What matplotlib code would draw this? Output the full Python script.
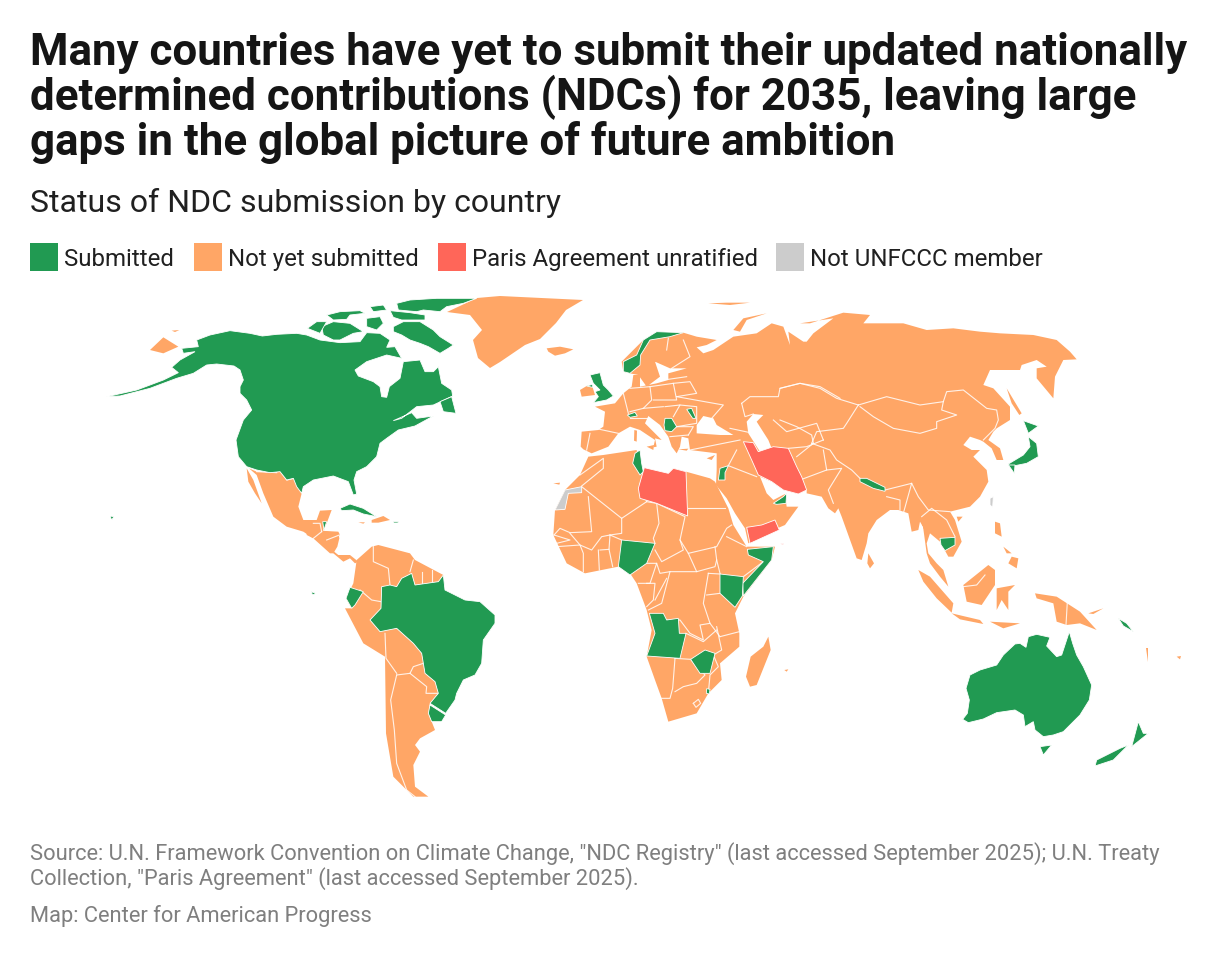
import matplotlib
matplotlib.use("Agg")
import matplotlib.pyplot as plt
from matplotlib.patches import Polygon, Rectangle

plt.rcParams['font.family'] = ['Roboto', 'DejaVu Sans']

TITLE = ["Many countries have yet to submit their updated nationally",
         "determined contributions (NDCs) for 2035, leaving large",
         "gaps in the global picture of future ambition"]
SUBTITLE = "Status of NDC submission by country"
LEGEND = ["Submitted", "Not yet submitted", "Paris Agreement unratified", "Not UNFCCC member"]
SOURCE = ['Source: U.N. Framework Convention on Climate Change, "NDC Registry" (last accessed September 2025); U.N. Treaty',
          'Collection, "Paris Agreement" (last accessed September 2025).']
CREDIT = "Map: Center for American Progress"

GREEN, ORANGE, RED, GREY = "#219a52", "#ffa666", "#ff6659", "#cccccc"

# shapes, each in one of a few local frames
FR = {1: (100, 290), 2: (300, 530), 3: (540, 290), 4: (540, 450), 5: (780, 300), 6: (880, 520)}
def z(f, pts):
    ox, oy = FR[f]
    return [(ox + x / 3, oy + y / 3) for x, y in pts]

greens = [
 z(1,[(290,150),(330,135),(390,122),(450,130),(487,138),(530,133),(590,130),(620,135),(660,150),(720,158),(780,155),(800,128),(840,130),(870,150),(860,172),(885,170),(905,205),(860,195),(800,215),(765,240),(775,258),(820,275),(840,290),(845,320),(860,322),(868,290),(900,265),(910,215),(960,210),(975,245),(1000,245),(1015,230),(1025,280),(1055,300),(1058,318),(1000,345),(950,350),(905,385),(880,392),(935,368),(950,385),(1000,378),(945,408),(895,420),(860,445),(840,460),(830,500),(800,530),(770,545),(762,570),(770,612),(760,615),(745,575),(700,558),(640,570),(610,590),(605,610),(590,590),(580,565),(560,570),(540,545),(510,548),(470,540),(440,530),(415,500),(408,450),(430,390),(455,360),(440,330),(420,310),(420,290),(430,270),(420,240),(402,228),(350,222),(320,225),(280,250),(230,265),(150,295),(60,318),(20,320),(110,300),(190,270),(235,248),(215,232),(240,210),(285,185),(250,190),(245,175),(295,170)]),
 z(1,[(880,110),(910,95),(960,95),(1000,120),(1020,140),(1060,165),(1045,175),(1020,190),(985,170),(960,160),(930,150),(905,135),(880,125)]),
 z(1,[(890,40),(930,30),(1010,25),(1130,25),(1090,40),(1040,50),(1020,65),(970,60),(950,65),(895,60)]),
 z(1,[(665,110),(700,95),(750,100),(790,125),(760,130),(720,150),(700,150),(670,135)]),
 z(1,[(622,115),(650,95),(680,95),(660,130)]),
 z(1,[(680,75),(720,65),(780,62),(795,70),(750,75),(740,88),(700,90)]),
 z(1,[(800,85),(840,80),(850,100),(830,120),(800,110)]),
 z(1,[(870,62),(930,68),(975,75),(975,90),(905,90),(880,82)]),
 z(1,[(810,50),(850,45),(860,60),(820,65)]),
 z(1,[(1020,335),(1055,320),(1068,370),(1030,365)]),
 z(1,[(720,655),(750,642),(790,655),(830,680),(790,672),(760,660),(725,662)]),
 z(1,[(880,695),(895,695),(894,699),(880,699)]),
 z(1,[(30,678),(42,680),(35,690)]),
 z(1,[(668,695),(680,695),(672,720)]),
 z(2,[(430,135),(435,180),(495,210),(540,215),(585,255),(585,280),(550,330),(545,400),(525,435),(490,450),(470,490),(465,510),(437,550),(390,520),(415,490),(405,455),(375,430),(365,370),(340,340),(290,295),(240,305),(210,270),(243,235),(245,170),(270,165),(290,170),(305,145),(335,130),(345,165),(415,155)]),
 z(2,[(390,525),(437,555),(425,575),(395,575),(385,550)]),
 z(2,[(150,172),(190,185),(165,225),(155,235),(138,205)]),
 z(2,[(33,185),(48,190),(38,195)]),
 z(3,[(430,128),(350,125),(310,150),(290,195),(250,215),(250,245),(270,250),(300,225),(302,195),(330,150),(390,140)]),
 z(3,[(150,255),(180,248),(190,285),(205,300),(220,318),(200,330),(160,338),(175,320),(165,305),(180,300),(160,280)]),
 z(3,[(140,288),(158,283),(158,292)]),
 z(3,[(262,375),(285,367),(292,378),(270,382)]),
 z(3,[(375,385),(395,385),(410,410),(395,425),(375,422),(372,405)]),
 z(3,[(440,358),(455,355),(468,385),(458,385)]),
 z(3,[(285,490),(300,480),(305,520),(310,545),(300,555),(278,520)]),
 z(3,[(540,535),(565,527),(555,548),(555,570),(535,570)]),
 z(3,[(700,640),(730,620),(740,610),(738,640),(710,643)]),
 z(4,[(622,298),(700,290),(695,330),(610,438),(608,400),(670,335),(625,315)]),
 z(4,[(540,372),(610,380),(607,438),(585,472),(540,430)]),
 z(4,[(235,350),(245,270),(345,280),(320,340),(270,375)]),
 z(4,[(328,490),(370,490),(380,510),(415,505),(418,550),(438,550),(420,625),(320,618),(345,550)]),
 z(4,[(452,628),(495,600),(525,610),(510,670),(480,670)]),
 z(4,[(500,716),(510,718),(508,732),(499,730)]),
 z(5,[(240,535),(260,535),(315,562),(315,574),(280,565),(240,545)]),
 z(5,[(480,715),(525,712),(525,735),(495,752),(483,735)]),
 z(5,[(745,410),(770,430),(775,470),(740,490),(690,500),(685,492),(730,465),(750,440)]),
 z(5,[(730,362),(775,378),(745,400)]),
 z(5,[(685,495),(705,495),(703,520)]),
 z(6,[(248,598),(262,580),(268,540),(258,505),(270,465),(300,450),(350,435),(370,405),(405,372),(420,370),(438,382),(445,350),(470,343),(510,352),(500,378),(530,410),(545,405),(568,335),(578,370),(590,405),(610,440),(635,495),(628,540),(600,585),(550,635),(520,645),(490,650),(465,630),(460,605),(435,620),(430,585),(405,570),(350,578),(310,597),(265,608)]),
 z(6,[(480,680),(515,675),(490,705)]),
 z(6,[(775,605),(790,640),(805,640),(755,680)]),
 z(6,[(745,675),(700,720),(645,738),(650,720),(720,685)]),
 z(6,[(715,295),(740,310),(760,335),(730,318)]),
]

oranges = [
 z(1,[(447,535),(470,545),(520,548),(540,545),(560,572),(580,567),(605,610),(595,650),(610,690),(650,690),(660,662),(695,660),(680,700),(668,722),(715,730),(718,745),(712,770),(700,790),(690,790),(640,745),(610,725),(560,710),(520,680),(490,610),(470,555)]),
 z(1,[(440,535),(460,570),(485,640),(465,610),(445,575)]),
 z(1,[(815,690),(850,678),(870,690),(835,698),(815,698)]),
 z(1,[(775,697),(795,697),(790,701)]),
 z(1,[(150,180),(190,142),(235,170),(190,190)]),
 z(1,[(215,122),(238,120),(225,126)]),
 [(447,312),(477,298),(500,296),(583,300),(566,310),(556,323),(540,339),(525,345),(500,362),(490,368),(478,358),(473,340),(482,330),(470,315)],
 z(2,[(20,0),(115,5),(120,15),(100,30),(90,55),(115,75),(150,75),(175,95),(165,100),(150,85),(130,95),(100,70),(60,35),(20,15)]),
 z(2,[(170,90),(215,50),(235,45),(330,70),(345,90),(430,135),(415,155),(345,165),(335,130),(305,145),(290,170),(245,170),(243,235),(210,270),(240,305),(290,295),(340,340),(365,370),(375,430),(405,455),(415,490),(390,520),(385,550),(395,575),(405,600),(360,625),(345,645),(360,665),(340,705),(345,770),(385,800),(340,800),(280,740),(258,610),(255,380),(190,340),(135,235),(155,235),(138,205),(160,160)]),
 z(3,[(20,175),(60,170),(100,178),(75,190),(45,197),(25,185)]),
 z(3,[(120,300),(140,288),(158,292),(165,315),(125,320)]),
 z(3,[(580,120),(610,85),(680,70),(620,90),(600,125)]),
 z(3,[(505,40),(560,38),(630,38),(570,45)]),
 z(3,[(283,420),(291,422),(290,455),(282,452)]),
 z(3,[(283,395),(291,395),(289,412),(284,412)]),
 z(3,[(320,470),(342,465),(340,480)]),
 z(3,[(415,478),(445,476),(440,482)]),
 z(3,[(500,505),(525,495),(515,510)]),
 z(3,[(40,580),(60,578),(58,584)]),
 # Eurasia
 z(3,[(430,128),(470,140),(530,150),(500,165),(470,172),(490,190),(520,180),(580,140),(650,130),(695,100),(730,110),(750,165),(745,125),(790,155),(800,155),(820,130),(880,85)])
 + z(5,[(60,70),(90,70),(190,38),(270,45),(250,70),(370,70),(440,90),(520,85),(600,95),(660,100),(760,105),(830,120),(870,155),(890,178),(850,180),(825,230),(820,295),(770,235),(770,205),(800,200),(770,180),(725,195),(720,210),(630,210),(610,255),(640,265),(690,320),(690,360),(650,385),(640,395),(625,420),(660,445),(670,480),(650,480),(635,445),(610,425),(600,420),(570,410),(550,435),(575,450),(600,450),(580,470),(620,510),(625,545),(600,590),(570,620),(510,635),(525,660),(545,725),(520,770),(505,770),(495,752),(480,725),(450,700),(440,730),(445,760),(470,790),(490,810)])
 + z(6,[(205,200),(180,170),(150,130),(140,100)])
 + z(5,[(425,650),(440,700),(420,665),(415,690),(395,695),(385,640),(355,630),(330,630),(290,660),(265,700),(260,730),(245,780),(230,775),(185,650),(175,625),(165,640),(145,625),(125,590),(80,580)])
 + z(3,[(800,600),(775,612),(730,600),(695,575),(660,560),(680,610),(700,630),(735,612)])
 + z(4,[(735,135),(740,170),(775,170),(735,225),(700,240),(625,280),(615,235),(585,190),(560,145),(528,105)])
 + z(3,[(530,540),(530,490),(450,480),(445,445),(425,440),(420,470),(410,490),(395,470),(385,440),(360,405),(325,378),(315,400),(335,420),(365,450),(345,445),(350,470),(340,472),(345,450),(300,420),(270,410),(235,430),(205,470),(155,490),(130,478),(122,470),(125,425),(175,420),(190,410),(195,365),(165,350),(225,340),(250,310),(275,290),(280,255),(300,255),(300,290),(350,280),(385,270),(385,250),(440,235),(390,235),(345,215),(380,175),(395,175),(345,215),(360,260),(320,290),(295,255),(270,250),(250,245),(245,215),(310,150),(350,130)]),
 # Africa
 z(4,[(45,180),(75,120),(120,75),(145,20),(190,15),(290,0),(300,60),(385,75),(400,55),(438,65),(510,85),(525,95),(565,175),(580,225),(620,290),(705,290),(695,330),(610,440),(585,490),(598,550),(598,590),(540,640),(545,690),(505,730),(470,790),(385,815),(365,745),(345,690),(320,620),(335,540),(320,480),(290,400),(270,370),(235,350),(135,370),(80,340),(40,255)]),
 z(4,[(685,560),(692,600),(650,705),(630,710),(618,680),(632,620),(670,590)]),
 z(4,[(733,660),(745,658),(740,665)]),
 z(5,[(265,760),(282,790),(270,805),(262,790)]),
 z(5,[(530,650),(548,650),(535,665)]),
 z(5,[(680,265),(725,340),(718,345),(695,310)]),
 z(6,[(115,150),(150,170),(220,250),(215,278),(170,235),(130,185)]),
 z(6,[(215,280),(300,300),(310,312),(240,298)]),
 z(6,[(330,305),(420,310),(370,325)]),
 z(6,[(250,195),(325,135),(345,150),(345,195),(305,255),(260,245)]),
 z(6,[(350,205),(405,195),(385,215),(385,270),(365,240),(350,270)]),
 z(6,[(465,220),(530,230),(600,275),(650,330),(600,310),(560,315),(530,305),(520,250),(470,235)]),
 z(6,[(625,280),(670,265),(640,282)]),
 z(6,[(345,5),(360,10),(365,50),(345,40)]),
 z(6,[(395,110),(415,115),(410,145),(385,130)]),
 z(6,[(370,80),(395,100),(380,100)]),
 z(6,[(890,410),(903,408),(900,418)]),
 z(6,[(798,385),(805,385),(805,425)]),
]

reds = [
 z(3,[(313,533),(385,550),(400,535),(438,545),(443,678),(350,640),(300,625),(295,595),(305,560)]),
 z(3,[(610,455),(640,458),(655,485),(700,470),(745,475),(770,530),(785,560),(800,600),(775,612),(730,600),(695,575),(655,555),(635,510)]),
 z(4,[(620,232),(665,225),(705,210),(718,240),(630,280)]),
 z(4,[(722,281),(732,281),(728,285)]),
]

greys = [
 z(4,[(45,180),(75,120),(125,110),(125,128),(85,130),(75,178)]),
 z(5,[(630,595),(640,590),(638,622),(630,615)]),
]

waters = [
 z(1,[(730,368),(770,352),(790,365),(755,375)]),
 z(1,[(750,430),(745,425),(765,380),(785,385),(770,420)]),
 z(1,[(790,430),(785,420),(815,385),(825,395)]),
 z(1,[(790,430),(855,408),(860,405),(820,420)]),
 z(3,[(470,405),(490,378),(520,385),(530,405),(580,435),(540,435),(470,430)]),
 z(3,[(620,395),(640,372),(670,375),(650,395),(685,450),(695,475),(660,485),(625,430)]),
]

borders = [
 z(1,[(487,138),(402,228),(430,240),(455,270),(445,300),(425,300)]),
 z(1,[(468,350),(708,350),(760,365)]),
 z(1,[(530,548),(470,545)]),
 z(1,[(640,700),(660,700),(665,725)]),
 z(1,[(640,745),(665,725)]),
 z(1,[(680,750),(718,735)]),
 z(2,[(220,50),(220,95),(265,115),(270,165)]),
 z(2,[(330,125),(340,90)]), z(2,[(365,125),(365,160)]), z(2,[(395,120),(395,155)]),
 z(2,[(180,180),(215,210),(243,215)]),
 z(2,[(255,310),(258,385),(290,430)]),
 z(2,[(290,435),(330,430),(340,410),(370,400)]),
 z(2,[(330,430),(380,470),(378,490),(415,490)]),
 z(2,[(290,435),(272,510),(283,600),(290,700),(320,780),(345,800)]),
 z(2,[(390,525),(437,555)]),
 z(3,[(165,415),(235,430)]), z(3,[(150,430),(140,480)]),
 z(3,[(250,310),(265,370)]),
 z(3,[(270,295),(330,290),(335,330),(310,355),(270,365)]),
 z(3,[(330,290),(400,280),(410,330),(340,330)]),
 z(3,[(270,385),(320,385)]), z(3,[(310,355),(370,350)]),
 z(3,[(375,350),(420,345),(400,380)]),
 z(3,[(420,345),(470,350),(470,400),(410,410)]),
 z(3,[(410,320),(550,345),(515,385)]),
 z(3,[(410,320),(470,310),(450,275),(400,280)]),
 z(3,[(385,268),(440,260)]),
 z(3,[(410,410),(460,410),(445,435)]), z(3,[(390,440),(445,435)]),
 z(3,[(430,150),(450,200),(395,235)]), z(3,[(385,145),(380,180)]),
 z(3,[(450,480),(600,450)]), z(3,[(590,480),(565,527)]), z(3,[(565,527),(650,560)]),
 z(3,[(605,340),(630,320),(715,320),(720,295),(780,280),(840,290),(900,325)]),
 z(3,[(570,415),(640,430)]),
 z(3,[(700,390),(740,425),(830,400),(850,450)]),
 z(3,[(745,475),(800,470),(850,450)]),
 z(3,[(605,340),(615,380),(640,372)]),
 z(4,[(120,75),(190,25),(190,55),(125,108)]),
 z(4,[(125,110),(245,205),(320,155),(300,100)]),
 z(4,[(145,140),(155,245),(90,248),(60,235),(42,255)]),
 z(4,[(245,205),(245,250),(210,255),(185,260),(155,300),(120,285),(90,250)]),
 z(4,[(320,155),(350,160),(357,220),(340,265),(345,280)]),
 z(4,[(245,270),(210,255)]),
 z(4,[(350,160),(435,200),(420,270),(430,300),(365,335),(345,300)]),
 z(4,[(445,175),(555,175)]),
 z(4,[(420,270),(445,310),(530,290),(560,235),(575,225)]),
 z(4,[(560,260),(620,290)]),
 z(4,[(670,335),(610,380)]), z(4,[(540,370),(530,330),(525,290)]),
 z(4,[(445,310),(470,365),(525,350),(530,330)]),
 z(4,[(350,340),(360,370),(390,365),(470,365)]),
 z(4,[(390,365),(365,460),(325,480)]),
 z(4,[(505,370),(490,460),(510,520),(480,525),(490,570),(450,550),(420,510),(380,510)]),
 z(4,[(500,435),(540,430)]), z(4,[(540,560),(598,545)]), z(4,[(510,520),(540,560)]),
 z(4,[(505,370),(540,372)]),
 z(4,[(320,340),(350,340),(330,400),(295,400)]),
 z(4,[(320,400),(345,400),(340,450),(320,470)]), z(4,[(380,385),(345,450)]),
 z(4,[(438,550),(490,575),(530,540)]),
 z(4,[(530,530),(545,600),(520,615),(535,650),(510,675),(505,730)]),
 z(4,[(405,625),(398,715),(390,745),(365,745)]),
 z(4,[(405,625),(452,628),(495,675),(470,700),(430,710),(405,725)]),
 z(4,[(460,760),(475,748),(482,760),(468,772),(460,760)]),
 z(4,[(50,290),(120,285),(130,310),(130,365)]),
 z(4,[(175,300),(178,360)]), z(4,[(207,298),(218,350)]), z(4,[(180,300),(207,298),(210,255)]),
 z(4,[(42,255),(90,270),(50,280)]),
 z(5,[(0,265),(60,250),(120,265),(170,295),(235,315)]),
 z(5,[(235,315),(320,290),(420,315),(490,305),(500,275),(550,270),(620,325),(650,330),(655,360),(645,385),(610,420)]),
 z(5,[(240,320),(280,350),(340,385),(420,400),(470,385),(470,365),(530,345),(485,330),(490,305)]),
 z(5,[(235,315),(200,370),(190,385),(110,395),(95,430)]),
 z(5,[(95,430),(150,450),(170,480),(215,510),(240,535)]),
 z(5,[(315,570),(395,550),(415,590),(445,630),(510,635)]),
 z(5,[(50,470),(100,430)]), z(5,[(60,540),(140,510),(130,450)]),
 z(5,[(140,510),(185,505),(145,570),(160,610)]),
 z(5,[(320,590),(360,600),(360,630)]), z(5,[(395,550),(370,640)]),
 z(5,[(425,650),(455,625),(500,660),(525,710)]),
 z(5,[(630,420),(650,430)]),
 z(5,[(0,360),(50,380),(95,405),(100,430)]),
 z(6,[(250,200),(290,195),(315,165)]),
 z(6,[(562,245),(558,315)]),
]

fig = plt.figure(figsize=(12.2, 9.58), dpi=100)
ax = fig.add_axes([0, 0, 1, 1])
ax.set_xlim(0, 1220)
ax.set_ylim(958, 0)
ax.axis("off")

def fill(shapes, color, edge="white", lw=0.6, zo=2):
    for s in shapes:
        ax.add_patch(Polygon(s, closed=True, facecolor=color, edgecolor=edge, linewidth=lw, zorder=zo))

fill(oranges, ORANGE, edge="none", lw=0, zo=1)
fill(waters, "white", edge="none", lw=0, zo=1.5)
fill(greens, GREEN, zo=3)
fill(reds, RED, zo=3)
fill(greys, GREY, zo=3)
for b in borders:
    ax.plot(*zip(*b), color="white", lw=0.8, alpha=0.85, zorder=2.5, solid_joinstyle="round")

def px(sz):
    return sz * 0.72

for i, line in enumerate(TITLE):
    ax.text(30, 65 + i * 45, line, fontsize=px(43.9), fontweight="bold", color="#151515", va="baseline")
ax.text(30, 212, SUBTITLE, fontsize=px(32), color="#202020", va="baseline")

for name, c, x in zip(LEGEND, [GREEN, ORANGE, RED, GREY], [30, 194, 438, 776]):
    ax.add_patch(Rectangle((x, 243), 28, 28, facecolor=c, edgecolor="none"))
    ax.text(x + 34, 266, name, fontsize=px(24), color="#202020", va="baseline")

for y, line in zip([860, 885], SOURCE):
    ax.text(30, y, line, fontsize=px(21.9), color="#7f7f7f", va="baseline")
ax.text(30, 922, CREDIT, fontsize=px(21.9), color="#7f7f7f", va="baseline")

fig.savefig("out.png", dpi=100, facecolor="white")
